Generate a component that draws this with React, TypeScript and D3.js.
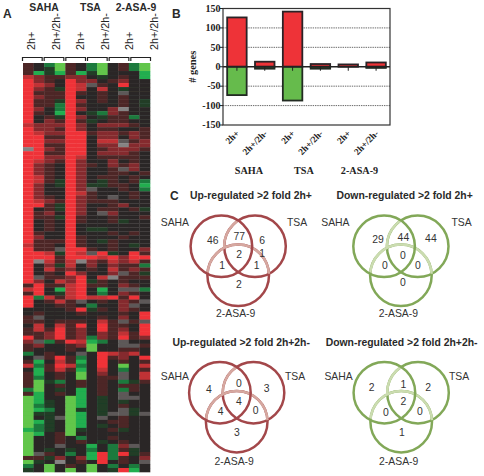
import * as d3 from "d3";
import React from "react";

// panel A: one string per gene, one letter per array column
const heatRows = [
  "a0fia0fi0afi", "a0eia0fi0afi", "ahehahei000h", "cbaabb0e0a0h", "dba0dbb0ab00", "dcb0dcxa0d00",
  "dbaedc0c0e00", "daaada0a0x00", "dbaad00a0a00", "daaedb0a0a0e", "daafda000a0e", "db0fdb00bw00",
  "da0hd0efba00", "d0aedb0eaaf0", "d0badae0aa00", "cbbbdb0bbba0", "dbbadb0aa00a", "dcbbddabbaba",
  "ddaadd0bb0ba", "ddbbdd0ccxab", "ddaadd0bbwbb", "wdbadd0abbba", "ddaadd0bbba0", "ddbbdc0aaaa0",
  "dcbadb00b0a0", "dba0dba0bab0", "dba0db00axb0", "dba0db00aa0a", "dca0db0aa0a0", "dcaedb0ea0af",
  "db0edbeeaa0h", "db00dbx00a0f", "db00dca000a0", "dba0dba0x0a0", "dcbadbaaa000", "ddaedb00ab00",
  "d0aedb0aa0ae", "dab0db0xb000", "daaeda00a00a", "d0a0da00ae00", "d0a0d0000000", "d0a0d0ee0000",
  "da00d000a0a0", "db00da000a00", "daaada0ea000", "caa0da00a0e0", "daaxdda0a00b", "ddcedcxde0da",
  "dddadddcdbdd", "dwcacwbacbca", "d0bec0b0baaf", "d0cab0a0caba", "d0a0db00bxae", "dxaabd0cwaaa",
  "db0cbdea0a00", "adaacdaa0ba0", "cd0hcd0h0xxf", "ad0ecd0f0ba0", "dfcacdccdad0", "d0acax0a0bax",
  "d00aa0f00bx0", "0000adea0ba0", "0a000a000a0d", "ax00000a0b0d", "aa0aaa0caxax", "0c0cad0daa0d",
  "acadab0dab0d", "aabdab0bacad", "dabdabfbadab", "bxfadchf0x00", "ab00abi00xxa", "a000a0i00aa0",
  "f0a00x0dcbc0", "0xadaf0dab0d", "ah0cah0d0a0a", "cfadcf0d0i0c", "0hacah0c0f0a", "ah0a0i0b0x0c",
  "af0a0i0aax0c", "aief0a0a0fea", "ai0a0a0a0aa0", "fi0e0h0a0fa0", "ah0a0h0a0x00", "ih00ih0e0xx0",
  "ihe0ih0e0e00", "ife0ih0e0a00", "ihf0ie0e0xe0", "iee0ih0exxex", "i0exih0x0a00", "ihe0ih00aa00",
  "ife0ih0e0a00", "hfe0ie00ae00", "ih0ai0000000", "i00a0f00a000", "i00a0a0e0a00", "i00x00h0fbx0",
  "i0e0e0f0fae0", "ixa0f0hdfdea", "aaeb0bhdfa0b", "ie0w0a0d0a0x", "f0i0a0i0f0f0", "e0i0i0i0edh0",
];
const heatLevels = ["0", "a", "b", "c", "d", "e", "f", "h", "i", "w", "x"];
const heatColors = ["#2a2726", "#4d2626", "#852c2d", "#c03236", "#ef3337", "#203d28", "#1d7a3e", "#20ae50", "#62c64b", "#858383", "#5d5958"];
const heatGroups = ["SAHA", "TSA", "2-ASA-9"];
const heatTreatments = ["2h+", "2h+/2h-", "2h+", "2h+/2h-", "2h+", "2h+/2h-"];

// panel B
const barLabels = ["2h+", "2h+/2h-", "2h+", "2h+/2h-", "2h+", "2h+/2h-"];
const barUp = [127, 13, 142, 7, 6, 11];
const barDown = [-73, -5, -87, -5, 0, -3];
const barTicks = [150, 100, 50, 0, -50, -100, -150];
const barGroups = ["SAHA", "TSA", "2-ASA-9"];

// panel C: SAHA, SAHA+TSA, TSA, all, SAHA+ASA, TSA+ASA, ASA
const vennTitles = [
  "Up-regulated >2 fold 2h+",
  "Down-regulated >2 fold 2h+",
  "Up-regulated >2 fold 2h+2h-",
  "Down-regulated >2 fold 2h+2h-",
];
const vennCounts = [
  ["46", "77", "6", "2", "1", "1", "2"],
  ["29", "44", "44", "0", "0", "0", "0"],
  ["4", "0", "3", "4", "4", "0", "3"],
  ["2", "1", "2", "2", "0", "0", "1"],
];

const sans = "'Liberation Sans', Arial, sans-serif";
const serif = "'Liberation Serif', 'Times New Roman', serif";

const venns = [
  { cx: 238.2, cy: 275.3, dark: "#a3474a", light: "#d6a8a0", titleX: 190, titleY: 199, tsaX: 287, tsaY: 226, sahaX: 189, sahaY: 226, nameY: 41.5 },
  { cx: 400.9, cy: 275.3, dark: "#82a858", light: "#cbdcb0", titleX: 336.5, titleY: 199, tsaX: 451.5, tsaY: 226, sahaX: 349.5, sahaY: 226, nameY: 41.5 },
  { cx: 236.7, cy: 421.7, dark: "#a3474a", light: "#d6a8a0", titleX: 172.5, titleY: 346, tsaX: 285, tsaY: 379.5, sahaX: 189, sahaY: 379.5, nameY: 43 },
  { cx: 401.2, cy: 421.7, dark: "#82a858", light: "#cbdcb0", titleX: 325.7, titleY: 346, tsaX: 449, tsaY: 379.5, sahaX: 352.7, sahaY: 379.5, nameY: 43 },
];
const vennOffsets = [
  [[-25.5, -34.6], [1, -39.3], [24, -35.3], [1, -21.3], [-16, -9.6], [18.5, -9.6], [0.8, 9.4]],
  [[-22.8, -36.3], [2.5, -38], [30, -37], [1.9, -20.3], [-16, -9.6], [17, -9.6], [2, 7]],
  [[-27.7, -32.4], [2.3, -38.4], [30, -33.4], [2.3, -20], [-16, -10], [19, -11], [0.3, 10.3]],
  [[-29.5, -34], [2.1, -37.7], [27, -34.7], [2.1, -20], [-15.2, -9.4], [18.8, -10], [0.8, 10.3]],
];

const R = 30.8;
const DX = 16.8;
const DY = 29;
const RING = 2.5;

// angle (d3.arc convention, 0 = up, clockwise) of the crossing of two circles
function crossing(a: number[], b: number[], side: number) {
  const dx = b[0] - a[0];
  const dy = b[1] - a[1];
  const d = Math.hypot(dx, dy);
  const h = Math.sqrt(R * R - (d * d) / 4);
  const px = a[0] + dx / 2 + (side * h * -dy) / d;
  const py = a[1] + dy / 2 + (side * h * dx) / d;
  return Math.atan2(px - a[0], -(py - a[1]));
}

function Venn({ index }: { index: number }) {
  const v = venns[index];
  const left = [-DX, -DY];
  const right = [DX, -DY];
  const bottom = [0, 0];
  const ring = d3.arc().innerRadius(R - RING / 2).outerRadius(R + RING / 2);

  // pale arcs: top of the lower ring, and the upper part of the right ring inside the left one
  const a0 = crossing(bottom, left, -1);
  const a1 = crossing(bottom, right, 1);
  let b0 = crossing(right, left, 1);
  let b1 = crossing(right, bottom, 1);
  if (b0 < 0) b0 += 2 * Math.PI;
  if (b1 < 0) b1 += 2 * Math.PI;

  return (
    <g>
      <text x={v.titleX} y={v.titleY} fontFamily={sans} fontWeight="bold" fontSize={10.4} fill="#2a2a2a">
        {vennTitles[index]}
      </text>
      <g transform={`translate(${v.cx},${v.cy})`} fill="none" stroke={v.dark} strokeWidth={RING}>
        <circle cx={right[0]} cy={right[1]} r={R} />
        <circle cx={bottom[0]} cy={bottom[1]} r={R} />
        <path
          d={ring({ startAngle: a0, endAngle: a1 } as any) || ""}
          fill={v.light}
          stroke="none"
        />
        <path
          transform={`translate(${right[0]},${right[1]})`}
          d={ring({ startAngle: Math.min(b0, b1), endAngle: Math.max(b0, b1) } as any) || ""}
          fill={v.light}
          stroke="none"
        />
        <circle cx={left[0]} cy={left[1]} r={R} />
      </g>
      <g fontFamily={sans} fontSize={10.4} fill="#333" textAnchor="middle">
        {vennCounts[index].map((count, i) => (
          <text key={i} x={v.cx + vennOffsets[index][i][0]} y={v.cy + vennOffsets[index][i][1] + 3.7}>
            {count}
          </text>
        ))}
        {index === 0 ? (
          <text x={v.cx + 24} y={v.cy - 18.3}>
            1
          </text>
        ) : null}
        <text x={v.sahaX} y={v.sahaY} textAnchor="end">
          SAHA
        </text>
        <text x={v.tsaX} y={v.tsaY} textAnchor="start">
          TSA
        </text>
        <text x={v.cx - 2.5} y={v.cy + v.nameY}>
          2-ASA-9
        </text>
      </g>
    </g>
  );
}

function Heatmap() {
  const columns = d3.range(12);
  const x = d3.scaleBand<number>().domain(columns).range([23, 150]);
  const y = d3.scaleBand<number>().domain(d3.range(heatRows.length)).range([63, 472]);
  const color = d3.scaleOrdinal<string, string>().domain(heatLevels).range(heatColors);
  const pair = d3.scaleBand<number>().domain(d3.range(6)).range([22, 152]);
  const labelX = d3.scalePoint<number>().domain(d3.range(6)).range([35, 158]);

  return (
    <g>
      <g filter="url(#soft)">
        {heatRows.map((row, r) =>
          columns.map((c) => (
            <rect
              key={`${r}-${c}`}
              x={x(c)}
              y={y(r)}
              width={x.bandwidth() + 0.3}
              height={y.bandwidth() + 0.3}
              fill={color(row[c])}
            />
          ))
        )}
      </g>
      {heatTreatments.map((label, i) => {
        const px = pair(i) || 0;
        const w = pair.bandwidth();
        return (
          <g key={i}>
            <path
              d={`M${px + 0.5},61 V57.5 H${px + w - 1.5} V61`}
              fill="none"
              stroke="#222"
              strokeWidth={1.2}
            />
            <text
              transform={`translate(${labelX(i)},50) rotate(-90)`}
              fontFamily={sans}
              fontSize={10.8}
              fill="#222"
            >
              {label}
            </text>
          </g>
        );
      })}
      {heatGroups.map((label, i) => (
        <text
          key={label}
          x={[44, 90.5, 136][i]}
          y={11}
          textAnchor="middle"
          fontFamily={sans}
          fontWeight="bold"
          fontSize={10.4}
          fill="#2a2a2a"
        >
          {label}
        </text>
      ))}
    </g>
  );
}

function Bars() {
  const left = 223;
  const right = 390;
  const top = 8.5;
  const bottom = 125;
  const y = d3.scaleLinear().domain([-150, 150]).range([bottom, top]);
  const x = d3.scaleBand<number>().domain(d3.range(barLabels.length)).range([left, right]).paddingInner(0.3).paddingOuter(0.15);

  return (
    <g>
      {barTicks
        .filter((t) => t !== 0 && Math.abs(t) !== 150)
        .map((t) => (
          <line key={t} x1={left} x2={right} y1={y(t)} y2={y(t)} stroke="#444" strokeWidth={0.8} strokeDasharray="1.4 0.9" />
        ))}
      {barLabels.map((_, i) => (
        <g key={i}>
          <rect
            x={x(i)}
            y={y(barUp[i])}
            width={x.bandwidth()}
            height={y(0) - y(barUp[i])}
            fill="#ee3338"
            stroke="#2a2326"
            strokeWidth={1.8}
          />
          <rect
            x={x(i)}
            y={y(0)}
            width={x.bandwidth()}
            height={y(barDown[i]) - y(0)}
            fill="#66bb4c"
            stroke="#222a22"
            strokeWidth={1.8}
          />
        </g>
      ))}
      <line x1={left} x2={right} y1={y(0)} y2={y(0)} stroke="#222" strokeWidth={1.6} />
      {barLabels.map((_, i) => {
        const mid = (x(i) || 0) + x.bandwidth() / 2;
        return <line key={i} x1={mid} x2={mid} y1={y(0)} y2={y(0) + 4} stroke="#222" strokeWidth={1} />;
      })}
      <rect x={left} y={top} width={right - left} height={bottom - top} fill="none" stroke="#333" strokeWidth={1.2} />
      {barTicks.map((t) => (
        <g key={t}>
          <line x1={left - 3} x2={left} y1={y(t)} y2={y(t)} stroke="#222" strokeWidth={1} />
          <text x={left - 2.5} y={y(t) + 3.2} textAnchor="end" fontFamily={serif} fontWeight="bold" fontSize={10} fill="#222">
            {t}
          </text>
        </g>
      ))}
      <text
        transform={`translate(195.5,${y(0)}) rotate(-90)`}
        textAnchor="middle"
        fontFamily={serif}
        fontWeight="bold"
        fontSize={10.4}
        fill="#222"
      >
        # genes
      </text>
      {barLabels.map((label, i) => (
        <text
          key={i}
          transform={`translate(${(x(i) || 0) + x.bandwidth() / 2 + 3},134) rotate(-45)`}
          textAnchor="end"
          fontFamily={serif}
          fontWeight="bold"
          fontSize={9.2}
          fill="#222"
        >
          {label}
        </text>
      ))}
      {barGroups.map((label, i) => (
        <text
          key={label}
          x={[249, 304, 359.5][i]}
          y={173.5}
          textAnchor="middle"
          fontFamily={serif}
          fontWeight="bold"
          fontSize={10.2}
          fill="#222"
        >
          {label}
        </text>
      ))}
    </g>
  );
}

export default function App() {
  const letter = { fontFamily: sans, fontWeight: "bold", fontSize: 12, fill: "#2a2a2a" };
  return (
    <svg
      width={484}
      height={476}
      style={{ position: "absolute", top: 0, left: 0, background: "#fff" }}
    >
      <defs>
        <filter id="soft" x="0" y="0" width="100%" height="100%">
          <feGaussianBlur stdDeviation="0.7" />
        </filter>
      </defs>
      <text x={3} y={18} {...letter}>A</text>
      <text x={172} y={18} {...letter}>B</text>
      <text x={170} y={199.5} {...letter}>C</text>
      <Heatmap />
      <Bars />
      {venns.map((_, i) => (
        <Venn key={i} index={i} />
      ))}
    </svg>
  );
}
